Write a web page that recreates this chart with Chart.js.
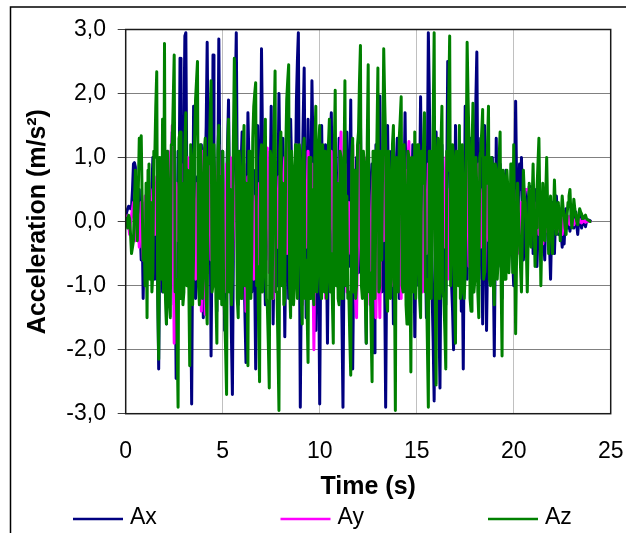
<!DOCTYPE html>
<html>
<head>
<meta charset="utf-8">
<title>Acceleration</title>
<script src="https://cdn.jsdelivr.net/npm/chart.js@4.4.1/dist/chart.umd.min.js"></script>
<style>
  html, body { margin: 0; padding: 0; background: #fff; }
  #wrap { width: 626px; height: 533px; overflow: hidden; }
</style>
</head>
<body>
<div id="wrap"><canvas id="chart" width="626" height="533"></canvas></div>
<script>
// ── Data ───────────────────────────────────────────────────
// samples every 0.05 s, from 0.0 s to 24.0 s (one row = one second)
const SAMPLE_STEP = 0.05;
const seriesNames = ['Ax', 'Ay', 'Az'];
const seriesColors = ['#000080', '#ff00ff', '#008000'];

const ax = [
  0.0, 0.15, 0.2, 0.24, 0.23, 0.2, 0.22, 0.5, 0.9, 0.92, 0.85, 0.3, -0.3, 0.1, 0.5, -0.2, -0.6, -0.1, -1.2, -0.4,
  0.3, -0.2, -0.8, 0.1, 0.4, -0.6, -0.4, 0.5, 1.0, -0.3, -0.9, 0.2, 0.6, -1.0, -2.3, -0.5, 0.8, 0.2, -1.1, -0.3,
  1.2, 0.1, -1.6, -0.4, 0.9, 0.3, -0.7, 0.6, 1.4, -0.2, -1.3, -0.6, -2.45, -0.3, 1.1, 0.4, 2.55, 1.0, -0.6, 0.5,
  1.5, 2.9, 2.95, 0.6, -1.0, -0.2, 0.4, -1.1, -2.85, -0.4, 1.8, 0.5, -1.2, -0.3, 0.7, 0.1, -0.9, 0.3, 1.2, 0.2,
  -1.5, -0.4, 0.8, 1.5, 2.8, 0.9, -0.6, 0.5, -2.1, -0.3, 2.6, 1.1, 0.3, -0.5, -1.4, 0.6, 2.85, 1.0, -0.8, 0.2,
  1.1, -0.3, -1.7, -0.6, 0.6, 1.2, 1.9, 0.4, -0.5, -1.8, -2.7, -0.5, 0.9, 2.0, 2.95, 0.7, -1.3, -0.4, 0.5, 0.9,
  1.4, 0.3, -0.7, -1.5, -2.2, 0.2, 1.7, 1.0, 0.6, -0.4, -1.1, 0.1, 0.8, -0.9, -2.3, -0.2, 1.5, 0.5, -0.9, 0.6,
  2.7, 1.3, 0.2, -0.6, -1.3, 0.1, 1.0, 0.3, -0.6, 0.7, 1.8, 0.2, -1.6, -0.5, 0.5, -0.3, -1.0, 0.6, 2.0, 0.8,
  -0.4, 0.4, 1.3, -0.2, -1.8, -0.5, 0.7, -0.1, -1.2, 0.3, 1.6, 0.9, 0.3, -0.4, -0.9, 0.6, 1.9, 2.5, 2.95, 0.1,
  -2.9, -1.0, 0.8, 1.6, 2.4, 0.3, -1.5, 0.2, 1.6, 0.5, -0.8, 0.7, 2.2, 1.2, 0.4, -0.6, -1.7, -0.2, 1.1, -0.9,
  -2.85, -0.6, 1.5, 0.4, -0.6, 0.3, 1.2, -0.5, -1.9, -0.3, 0.9, 1.3, 1.7, 0.2, -1.3, -0.4, 0.6, 0.1, -1.0, 0.4,
  1.3, 0.4, -0.5, -1.6, -2.9, -0.7, 0.8, 0.2, 1.4, 0.5, -0.7, 0.6, 1.9, -0.4, -2.3, -0.8, 0.5, -0.2, 1.0, 0.1,
  -0.8, 0.5, 1.6, 0.2, -0.9, -0.1, 0.7, -0.6, -1.9, -0.2, 1.4, 0.5, -0.6, 0.3, 0.9, -0.7, -2.05, -0.4, 1.2, 0.6,
  0.4, 1.2, 1.96, 0.3, -1.1, 0.2, 0.8, -1.0, -2.9, -0.8, 1.5, 0.4, -0.7, 0.2, 1.1, -0.3, -1.6, -0.5, 0.6, 0.9,
  1.3, 0.1, -1.2, -0.3, 0.5, 0.2, -0.8, 0.6, 1.7, 0.3, -1.4, -0.4, 0.9, 0.2, -0.5, 0.4, 1.2, -0.2, -1.8, -0.6,
  0.7, -0.2, -1.0, 0.5, 1.95, 0.6, -0.6, 0.3, 1.1, -0.4, -1.5, 0.8, 2.95, 2.0, 0.6, -0.3, -1.2, -1.9, -2.8, -0.6,
  1.4, 0.5, -0.7, -1.6, -2.6, -0.4, 1.2, 0.3, 0.6, -0.5, -1.3, 0.7, 2.5, 1.4, 0.9, -0.2, -1.0, -1.4, -2.0, -0.3,
  1.5, 0.6, -0.6, 0.3, 1.0, -0.4, -1.4, -0.6, -2.3, -0.2, 1.8, 0.5, -0.9, 0.1, 0.7, 0.2, 1.3, 0.4, -1.1, -0.3,
  0.8, 1.9, 2.65, 0.5, -0.9, 0.2, 1.3, -0.3, -1.6, 0.1, 1.5, -0.2, -1.7, -0.6, 0.6, 0.1, -0.8, 0.3, 1.0, -0.7,
  -2.1, -0.4, 1.3, 0.2, -0.7, 0.1, 0.9, -0.3, -1.2, -0.2, 0.4, 0.2, 0.8, 0.1, -0.6, -0.1, 0.5, 0.1, -0.3, -0.6,
  -1.0, 0.4, 1.88, 0.6, -0.4, 0.2, 0.9, 0.5, 1.0, 0.2, -0.6, -0.1, 0.5, 0.1, -0.3, 0.3, 0.55, 0.55, 0.52, 0.5,
  -0.5, 0.1, 0.5, -0.1, -0.7, -0.2, 0.3, 0.0, -0.4, 0.1, 0.2, -0.3, -0.6, 0.1, 0.4, 0.2, 0.1, -0.4, -0.9, -0.2,
  0.3, -0.1, -0.5, 0.0, 0.4, 0.1, -0.2, 0.05, 0.1, -0.2, -0.4, -0.1, -0.35, 0.0, 0.2, 0.05, -0.1, 0.0, -0.15, 0.05,
  0.2, 0.05, -0.1, 0.02, 0.15, -0.05, -0.2, 0.0, 0.1, 0.02, -0.1, 0.0, 0.05, -0.02, -0.08, 0.0, 0.03, 0.02, 0.02, 0.01,
  0.0
];

const ay = [
  0.0, 0.05, 0.1, -0.05, -0.2, 0.0, 0.1, 0.2, 0.3, 0.0, -0.3, -0.1, 0.2, -0.1, -0.4, 0.0, 0.3, -0.2, -0.6, -0.1,
  0.4, 0.0, -0.5, 0.2, 0.6, -0.2, -0.8, 0.1, 0.5, 0.2, -0.2, 0.3, 0.7, -0.3, -1.0, -0.2, 0.6, 0.1, -0.4, 0.3,
  0.8, 0.1, -0.9, 0.3, 1.1, 0.2, -0.7, 0.5, 1.5, -0.4, -1.9, -0.5, 0.6, 0.2, -0.3, 0.4, 0.9, -0.2, -1.1, -0.3,
  0.5, -0.1, -0.6, 0.3, 1.0, -0.2, -1.2, -0.3, 0.4, 0.1, 0.8, -0.1, -0.9, 0.0, 0.6, -0.2, -0.5, -0.8, -1.4, -0.2,
  1.1, -0.3, -1.45, -0.4, 0.3, 0.5, 0.9, 0.1, -0.6, 0.2, 0.7, -0.2, -1.0, -0.1, 0.5, 0.8, 1.2, 0.3, -0.8, -0.2,
  0.6, -0.3, -1.1, 0.1, 0.9, 0.2, -0.4, 0.3, 1.0, 0.1, -0.7, -0.1, 0.3, 0.5, 0.8, -0.3, -1.2, -0.4, 0.5, 0.1,
  -0.6, 0.2, 0.9, -0.3, -1.4, -0.2, 0.7, 0.1, -0.3, 0.4, 1.0, 0.0, -0.9, -0.1, 0.4, -0.2, -0.7, 0.0, 0.6, -0.3,
  -1.1, -0.2, 0.8, 0.4, 0.3, 0.7, 1.15, 0.1, -0.8, -0.1, 0.5, -0.4, -1.2, -0.1, 0.9, 0.2, -0.4, 0.2, 0.7, -0.2,
  -0.9, -0.1, 0.6, 0.8, 1.0, 0.2, -0.5, 0.4, 1.3, 0.1, -1.1, -0.3, 0.4, -0.1, -0.7, 0.3, 1.2, 0.2, -0.6, 0.1,
  0.8, -0.2, -1.3, -0.3, 0.5, 0.0, -0.4, 0.3, 1.1, 0.1, -0.8, 0.2, 0.9, -0.6, -2.0, -0.5, 0.6, 0.1, -0.5, 0.3,
  1.0, 0.1, -0.9, -0.2, 0.4, -0.3, -1.2, -0.2, 0.7, 0.3, -0.3, 0.4, 1.1, 0.2, -0.6, 0.0, 0.5, -0.3, -1.0, -0.1,
  0.6, 1.0, 1.4, 0.3, -0.7, 0.2, 0.9, -0.1, -1.1, -0.3, 0.3, -0.1, -0.5, 0.4, 1.2, 0.1, -0.8, -1.2, -1.5, -0.2,
  1.2, 0.3, -0.4, -0.7, -0.85, 0.1, 1.0, 0.2, -0.6, 0.1, 0.7, -0.4, -1.3, -0.3, 0.4, 0.7, 0.9, -0.3, -1.5, -0.4,
  0.5, -0.6, -1.5, -0.2, 0.8, 0.2, -0.3, 0.4, 1.1, 0.1, -0.7, 0.0, 0.6, -0.2, -1.0, -0.3, 0.4, 0.6, 0.9, 0.1,
  -0.6, 0.2, 1.0, -0.1, -1.2, -0.3, 0.5, 0.1, -0.4, 0.3, 0.8, 1.0, 1.25, 0.1, -0.9, -0.1, 0.6, 0.0, -0.5, 0.2,
  1.0, 0.1, -0.8, -0.1, 0.4, -0.4, -1.1, -0.2, 0.7, 0.1, -0.5, 0.2, 0.9, 0.1, -0.6, -0.1, 0.3, 0.5, 0.55, -0.2,
  -1.0, -0.2, 0.55, 0.0, -0.7, 0.1, 0.8, 0.2, -0.4, 0.3, 1.0, 0.1, -0.9, -0.2, 0.5, -0.1, -0.6, 0.1, 0.7, -0.1,
  -0.8, 0.2, 1.1, 0.3, -0.5, 0.1, 0.6, -0.2, -0.9, -0.1, 0.4, 0.7, 1.0, 0.1, -0.7, -0.1, 0.3, -0.3, -0.9, -0.1,
  0.7, 0.0, -0.6, 0.2, 0.9, 0.1, -0.4, 0.1, 0.5, -0.2, -0.8, -0.1, 0.6, 0.1, -0.3, 0.3, 0.8, 0.1, -0.5, 0.0,
  0.4, -0.1, -0.7, 0.0, 0.6, 0.1, -0.3, 0.2, 0.5, -0.1, -0.55, -0.1, 0.4, 0.0, -0.2, 0.1, 0.3, -0.1, -0.4, 0.1,
  0.5, 0.1, -0.3, 0.1, 0.4, -0.1, -0.5, 0.0, 0.3, 0.1, 0.2, 0.4, 0.5, 0.5, 0.5, 0.5, 0.5, 0.5, 0.5, 0.5,
  0.48, 0.1, -0.3, 0.0, 0.3, 0.05, -0.2, 0.05, 0.25, -0.05, -0.35, -0.1, 0.2, 0.0, -0.15, 0.05, 0.2, 0.0, -0.25, -0.05,
  0.15, 0.0, -0.1, 0.05, 0.2, 0.0, -0.15, 0.0, 0.1, 0.0, -0.2, -0.05, 0.1, 0.0, -0.1, 0.0, 0.08, 0.0, -0.05, 0.0,
  0.05, 0.0, -0.05, 0.0, 0.04, 0.0, -0.03, 0.0, 0.03, 0.0, -0.02, 0.0, 0.02, 0.0, -0.01, 0.0, 0.01, 0.0, 0.0, 0.0,
  0.0
];

const az = [
  0.0, 0.05, -0.1, 0.1, 0.05, -0.2, -0.5, -0.4, -0.3, 0.3, 0.8, 0.2, -0.3, 0.5, 1.3, 1.1, 1.34, 0.3, -0.6, -0.2,
  -1.0, 0.6, -1.5, 0.8, 0.9, -0.9, 0.3, -1.1, -0.8, 1.1, 1.0, 1.8, 2.34, -1.2, -2.15, 1.0, 0.7, -0.9, 1.6, -1.1,
  2.78, -1.2, -1.6, 1.1, 0.5, -1.3, -1.5, 1.2, 1.2, 1.9, 2.6, -1.1, -0.9, -1.8, -2.9, 1.3, 1.4, -1.2, 0.6, -1.3,
  -1.1, 1.2, 1.7, -1.0, 0.8, -0.9, -2.25, 1.2, 1.0, -1.3, -0.5, 1.2, 1.9, 2.2, 2.5, -1.0, -1.3, 1.2, 0.6, -1.2,
  -0.8, 1.1, 1.3, -1.2, -1.6, 1.0, 0.9, 1.6, 2.2, -1.1, -1.0, 1.2, 0.4, -1.2, -1.9, 1.1, 1.5, -1.2, 0.7, -1.3,
  1.1, -1.2, -1.4, -2.0, -2.7, 1.0, 1.6, -1.1, 0.5, -1.3, -0.9, 1.2, 2.55, 1.8, 1.2, -1.2, -1.5, 1.1, 0.8, -1.2,
  -1.2, 1.1, 1.5, -1.0, 0.6, -0.8, -2.25, 1.1, 1.1, -1.2, -0.5, 1.3, 1.8, 2.0, 2.17, -1.0, -0.7, -1.6, -2.5, 1.0,
  1.2, -1.1, -0.8, 1.2, 1.6, -1.2, -1.3, -1.9, -2.6, 1.1, 1.0, -1.2, 0.4, 1.5, 2.35, -1.1, -1.1, -2.0, -2.95, 1.1,
  1.4, -1.0, 0.6, -1.3, -1.2, 1.1, 1.9, 2.2, 2.45, -1.0, -1.5, 1.1, 0.8, -1.3, -1.0, 1.2, 1.2, -1.2, -0.4, 1.2,
  0.9, -1.2, -1.6, 1.1, 1.3, -1.2, -0.6, -1.4, -2.2, 1.0, 1.0, -1.2, 0.5, -1.1, -1.3, 1.2, 1.8, -1.1, -0.8, 1.2,
  1.5, -1.1, -1.2, 1.2, 0.7, -1.1, 1.1, -1.2, -0.9, 1.2, 1.6, -1.1, -0.5, -1.2, -1.9, 1.1, 2.05, -1.0, 0.6, -1.2,
  -1.3, 1.1, 1.0, -1.2, -0.7, 0.8, 2.2, -1.0, 0.4, -1.2, -1.1, -1.8, -2.4, 1.0, 1.3, -1.1, 0.8, -1.2, -1.0, 1.2,
  1.4, 2.2, 2.75, -1.0, -1.2, 1.1, 0.9, -1.2, -1.9, 1.2, 2.45, -1.1, -0.8, -1.7, -2.5, 1.1, 1.1, -1.2, 0.5, 1.3,
  2.4, -1.1, -1.0, 1.1, -0.6, 1.1, 2.7, 1.9, 1.2, -1.2, -1.4, 1.1, 0.7, -1.2, -0.9, 1.2, 1.5, -0.6, -2.95, 1.0,
  0.8, -1.1, 1.3, 1.6, 1.95, -1.0, -1.1, 1.2, 0.5, -1.3, -1.6, 1.1, 1.0, -0.6, -2.35, 1.0, 0.9, -1.1, 1.4, -1.2,
  -0.7, 1.2, 1.2, -1.2, -1.5, 1.1, 0.6, 1.2, 1.7, -1.1, -0.9, -1.9, -2.9, 1.1, 1.1, -1.2, 0.4, 1.6, 2.95, -1.0,
  -2.55, 1.0, 1.3, -1.2, -0.6, 1.2, 1.8, -1.1, -1.2, -1.7, -2.3, 1.1, 0.8, 1.9, 2.9, -1.0, -0.5, 1.2, 1.0, -1.2,
  -1.9, 1.1, 0.7, -1.0, 1.5, -1.2, -1.1, 1.2, 0.6, -1.2, -0.8, 1.0, 2.8, 1.9, 1.2, -1.2, -1.4, 1.1, 1.85, -1.1,
  -0.9, 1.0, 0.5, -1.1, -1.5, 1.0, 1.1, 1.4, 1.75, -0.9, -0.8, 1.0, 0.6, 1.2, 1.8, -0.9, -1.0, 1.0, 0.9, -1.0,
  -1.3, 0.9, 0.8, -0.9, -0.6, 1.0, 1.4, -0.9, -2.1, 0.8, 0.7, -0.9, -0.9, 0.8, 0.5, -0.8, -0.4, 0.9, 0.9, -0.8,
  1.2, -0.2, -1.75, -0.5, 0.6, 0.1, -0.3, -0.7, -1.1, -0.1, 0.8, 0.4, 0.3, -0.4, -1.1, -0.2, 0.6, 0.1, -0.4, 0.3,
  0.9, 0.1, -0.7, -0.1, 0.5, 0.9, 1.3, 0.2, -1.0, -0.2, 0.6, 0.1, -0.3, 0.4, 1.0, 0.2, -0.5, 0.0, 0.4, -0.1,
  -0.5, 0.1, 0.65, 0.2, -0.2, 0.1, 0.3, 0.0, -0.3, 0.1, 0.4, 0.2, 0.1, -0.1, -0.2, 0.1, 0.3, 0.4, 0.5, 0.1,
  -0.1, 0.1, 0.35, 0.2, 0.1, 0.0, -0.05, 0.1, 0.2, 0.15, 0.12, 0.05, 0.05, 0.08, 0.1, 0.05, 0.03, 0.02, 0.01, 0.0,
  0.0
];

const xTicks = [0, 5, 10, 15, 20, 25];
const yTicks = [-3, -2, -1, 0, 1, 2, 3];

// ── Helpers ────────────────────────────────────────────────
const FONT = "'Liberation Sans', Arial, sans-serif";
const toPoints = vals => vals.map((v, i) => ({ x: +(i * SAMPLE_STEP).toFixed(2), y: v }));
const comma = v => v.toFixed(1).replace('.', ',');

// outer frame (cut off at right / bottom) and plot border
const framePlugin = {
  id: 'frame',
  beforeDraw(chart) {
    const c = chart.ctx;
    c.save();
    c.strokeStyle = '#000';
    c.lineWidth = 1.5;
    c.beginPath();
    c.moveTo(10.5, chart.height);
    c.lineTo(10.5, 7);
    c.lineTo(chart.width, 7);
    c.stroke();
    c.restore();
  },
  afterDatasetsDraw(chart) {
    const a = chart.chartArea, c = chart.ctx;
    c.save();
    c.strokeStyle = '#1a1a1a';
    c.lineWidth = 1.5;
    c.strokeRect(a.left, a.top, a.right - a.left, a.bottom - a.top);
    c.restore();
  }
};

// legend row along the bottom, lines 50px long, items ~207px apart
const legendPlugin = {
  id: 'lineLegend',
  afterDraw(chart) {
    const c = chart.ctx;
    c.save();
    c.font = `23px ${FONT}`;
    c.textBaseline = 'middle';
    chart.data.datasets.forEach((ds, i) => {
      const x0 = 73 + i * 207.5, y = 519;
      c.strokeStyle = ds.borderColor;
      c.lineWidth = 2.5;
      c.beginPath();
      c.moveTo(x0, y);
      c.lineTo(x0 + 50, y);
      c.stroke();
      c.fillStyle = '#000';
      c.fillText(ds.label, x0 + 57, y - 1);
    });
    c.restore();
  }
};

// ── Chart ──────────────────────────────────────────────────
Chart.defaults.font.family = FONT;
Chart.defaults.color = '#000';

const seriesValues = [ax, ay, az];

new Chart(document.getElementById('chart'), {
  type: 'line',
  data: {
    datasets: seriesNames.map((name, i) => ({
      label: name,
      data: toPoints(seriesValues[i]),
      borderColor: seriesColors[i],
      backgroundColor: seriesColors[i],
      borderWidth: 3,
      borderJoinStyle: 'round',
      borderCapStyle: 'butt',
      pointRadius: 0,
      tension: 0,
      fill: false,
      order: 2 - i,   // Az drawn on top
    })),
  },
  options: {
    responsive: false,
    animation: false,
    events: [],
    layout: { padding: { left: 14, top: 29.5, right: 15.3, bottom: 31 } },
    plugins: {
      legend: { display: false },
      tooltip: { enabled: false },
    },
    scales: {
      x: {
        type: 'linear',
        min: 0,
        max: 25,
        afterBuildTicks: s => { s.ticks = xTicks.map(v => ({ value: v })); },
        afterFit: s => { s.height = 88.3; s.paddingLeft = 0; s.paddingRight = 0; },
        ticks: { padding: 24.5, font: { size: 23 }, color: '#000' },
        grid: { color: '#c0c0c0', lineWidth: 1, drawTicks: false },
        border: { display: false },
        title: {
          display: true,
          text: 'Time (s)',
          font: { size: 25, weight: 'bold' },
          padding: { top: 0, bottom: 0 },
        },
      },
      y: {
        min: -3,
        max: 3,
        afterBuildTicks: s => { s.ticks = yTicks.map(v => ({ value: v })); },
        afterFit: s => { s.width = 111.7; s.paddingTop = 0; s.paddingBottom = 0; },
        ticks: { padding: 11.7, font: { size: 23 }, color: '#000', callback: v => comma(v) },
        grid: { color: '#808080', lineWidth: 1, tickLength: 8, tickColor: '#404040' },
        border: { display: false },
        title: {
          display: true,
          text: 'Acceleration (m/s²)',
          font: { size: 25, weight: 'bold' },
          padding: { top: 9, bottom: 0 },
        },
      },
    },
  },
  plugins: [framePlugin, legendPlugin],
});
</script>
</body>
</html>
